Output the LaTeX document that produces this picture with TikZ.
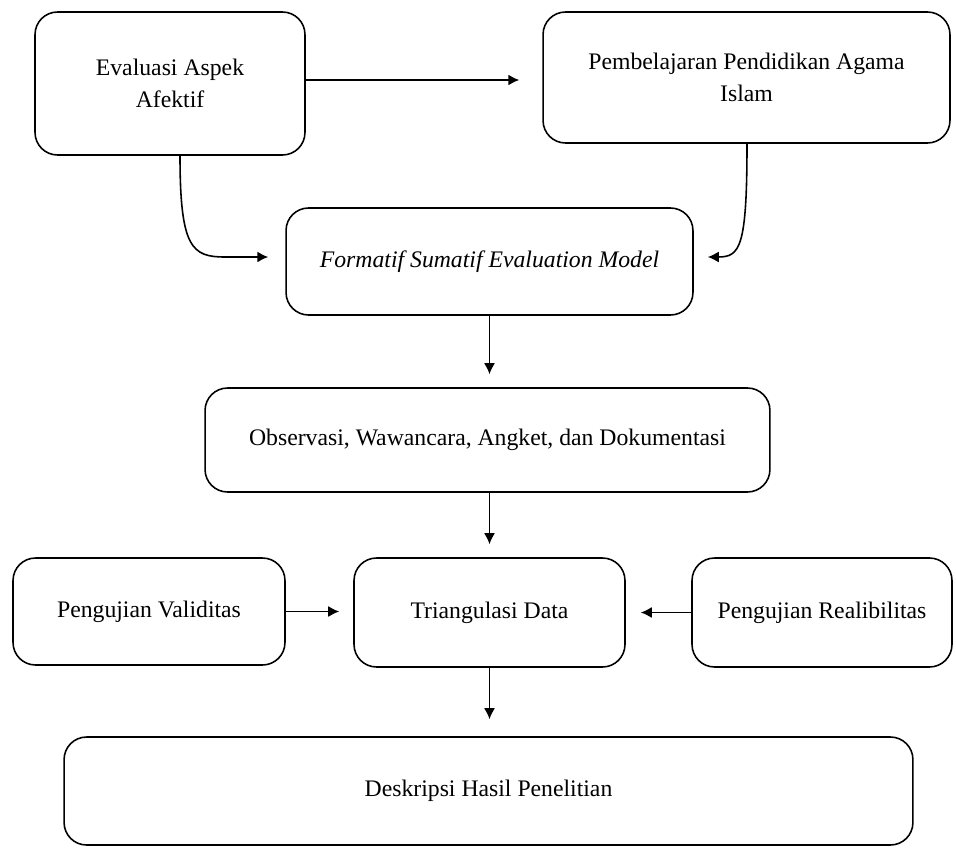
\documentclass[tikz,border=0pt]{standalone}
\usepackage{fontspec}
\setmainfont{Liberation Serif}
\usetikzlibrary{arrows.meta,calc}

\tikzset{
  kotak/.style={draw, line width=0.9pt, rounded corners=0.45cm, align=center,
    font=\fontsize{13.5}{18}\selectfont, inner sep=2pt},
  panah/.style={line width=0.9pt, -{Latex[length=2.2mm,width=2.2mm]}}
}

\begin{document}
\begin{tikzpicture}[x=0.02cm,y=-0.02cm]
    \useasboundingbox (0,0) rectangle (956,848);
    % kotak-kotak
    \node[kotak, minimum width=5.4cm, minimum height=2.86cm] (afektif) at (170,83.5) {Evaluasi Aspek\\Afektif};
    \node[kotak, minimum width=8.14cm, minimum height=2.62cm] (pai) at (746.5,77.5) {Pembelajaran Pendidikan Agama\\Islam};
    \node[kotak, minimum width=8.14cm, minimum height=2.14cm] (model) at (489.5,261.5) {\textit{Formatif Sumatif Evaluation Model}};
    \node[kotak, minimum width=11.3cm, minimum height=2.08cm] (teknik) at (487.5,440) {Observasi, Wawancara, Angket, dan Dokumentasi};
    \node[kotak, minimum width=5.44cm, minimum height=2.14cm] (validitas) at (149,611.5) {Pengujian Validitas};
    \node[kotak, minimum width=5.42cm, minimum height=2.18cm] (triangulasi) at (489.5,612.5) {Triangulasi Data};
    \node[kotak, minimum width=5.2cm, minimum height=2.18cm] (reliabilitas) at (822,612.5) {Pengujian Realibilitas};
    \node[kotak, minimum width=16.98cm, minimum height=2.16cm] (hasil) at (488.5,791) {Deskripsi Hasil Penelitian};

    % panah
    \draw[panah, shorten >=0.46cm] (afektif.east |- 0,80) -- (pai.west |- 0,80);
    \draw[panah] ($(afektif.south)+(10,0)$) .. controls (180,248) and (192,257) .. (225,257) -- ($(model.west)+(-17,-4.5)$);
    \draw[panah] (747,143) .. controls (747,248) and (740,257) .. ($(model.east)+(14,-4.5)$);
    \draw[panah, shorten >=0.26cm] (model.south) -- (teknik.north -| model.south);
    \draw[panah, shorten >=0.26cm] (teknik.south -| triangulasi) -- (triangulasi.north);
    \draw[panah, shorten >=0.28cm] (validitas.east) -- (triangulasi.west |- validitas.east);
    \draw[panah, shorten >=0.3cm] (reliabilitas.west) -- (triangulasi.east |- reliabilitas.west);
    \draw[panah, shorten >=0.34cm] (triangulasi.south) -- (hasil.north -| triangulasi.south);
\end{tikzpicture}
\end{document}
